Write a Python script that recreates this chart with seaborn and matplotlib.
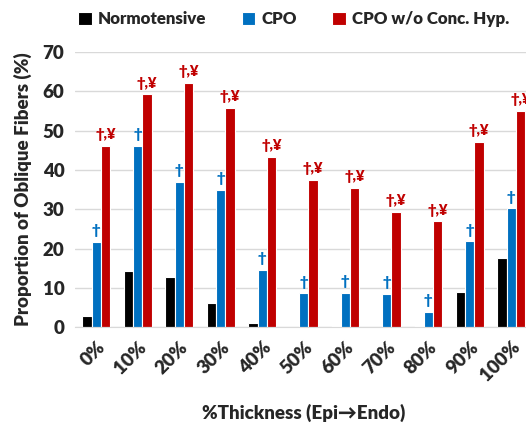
import matplotlib
matplotlib.use("Agg")
import matplotlib.pyplot as plt
import seaborn as sns
import pandas as pd

# data
thickness = ["0%", "10%", "20%", "30%", "40%", "50%", "60%", "70%", "80%", "90%", "100%"]
normotensive = [2.8, 14.2, 12.7, 6.2, 1.0, 0.1, 0.4, 0.1, 0.3, 8.9, 17.5]
cpo = [21.7, 46.1, 37.0, 35.0, 14.5, 8.6, 8.7, 8.4, 3.9, 21.8, 30.2]
cpo_wo = [46.2, 59.2, 62.2, 55.8, 43.4, 37.5, 35.4, 29.4, 26.9, 47.2, 55.0]
groups = ["Normotensive", "CPO", "CPO w/o Conc. Hyp."]
colors = ["#000000", "#0070C0", "#C00000"]
cpo_marks = ["\u2020"] * len(thickness)
wo_marks = ["\u2020,\u00a5"] * len(thickness)

sns.set_style("white")
plt.rcParams["font.family"] = ["Lato", "DejaVu Sans"]
W = "heavy"

df = pd.DataFrame({
    "Thickness": thickness * 3,
    "Group": [groups[0]] * 11 + [groups[1]] * 11 + [groups[2]] * 11,
    "Value": normotensive + cpo + cpo_wo,
})

fig = plt.figure(figsize=(5.26, 4.26), dpi=100)
ax = fig.add_axes([0.1435, 0.232, 0.868, 0.646])

sns.barplot(data=df, x="Thickness", y="Value", hue="Group", palette=colors,
            saturation=1, width=0.68, edgecolor="white", linewidth=0.8, ax=ax, legend=True)

# significance marks above bars
for bar, m in zip(ax.containers[1], cpo_marks):
    ax.text(bar.get_x() + bar.get_width() / 2, bar.get_height() + 1.2, m,
            ha="center", va="bottom", color=colors[1], fontsize=10.5, fontweight=W)
for bar, m in zip(ax.containers[2], wo_marks):
    ax.text(bar.get_x() + bar.get_width() / 2, bar.get_height() + 1.2, m,
            ha="center", va="bottom", color=colors[2], fontsize=10.5, fontweight=W)

ax.set_ylim(0, 70)
ax.set_yticks(range(0, 71, 10))
ax.set_xlim(-0.5, 10.5)
ax.yaxis.grid(True, color="#D9D9D9", linewidth=1)
ax.set_axisbelow(True)
for s in ["top", "right", "left"]:
    ax.spines[s].set_visible(False)
ax.spines["bottom"].set_color("#D9D9D9")
ax.tick_params(axis="both", length=0, labelsize=13.5)
ax.tick_params(axis="y", pad=8)
ax.tick_params(axis="x", pad=8)
for lab in ax.get_xticklabels():
    lab.set_rotation(45)
    lab.set_ha("right")
    lab.set_rotation_mode("anchor")
    lab.set_fontweight(W)
for lab in ax.get_yticklabels():
    lab.set_fontweight(W)

ax.set_xlabel("%Thickness (Epi\u2192Endo)", fontsize=13.5, fontweight=W, labelpad=14)
ax.set_ylabel("Proportion of Oblique Fibers (%)", fontsize=13.5, fontweight=W, labelpad=8)

ax.legend(loc="center left", bbox_to_anchor=(70 / 526, 0.955), bbox_transform=fig.transFigure,
          ncol=3, frameon=False, handlelength=0.8, handleheight=0.8,
          handletextpad=0.35, columnspacing=2.1, borderpad=0, prop={"weight": W, "size": 12.2})

fig.savefig("out.png", dpi=100)
